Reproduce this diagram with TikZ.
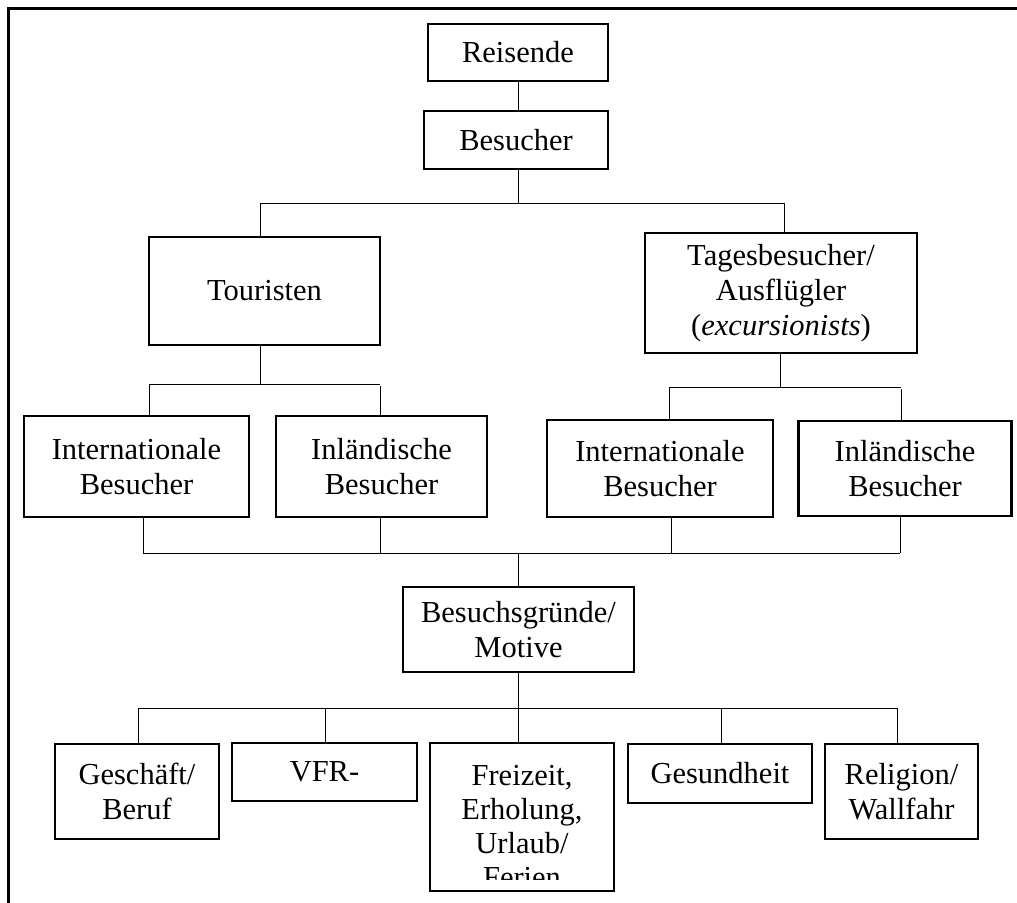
\documentclass[tikz,border=0pt]{standalone}
\usepackage{fontspec}
\setmainfont{Liberation Serif}
\begin{document}
\begin{tikzpicture}[x=1pt,y=-1pt,
  box/.style={draw, line width=2.8pt, rectangle, inner sep=0pt, align=center,
    font=\fontsize{30.5}{35}\selectfont},
  txt/.style={inner sep=0pt, align=center, font=\fontsize{30.5}{34}\selectfont},
  link/.style={line width=1pt}]
\clip (0,0) rectangle (1017,902);
% outer frame (right and bottom sides run off the page)
\draw[line width=3pt] (8.3,8.3) rectangle (1040,930);

% top levels
\node[box, minimum width=180, minimum height=57] (reis) at (518,52.5) {Reisende};
\node[box, minimum width=184, minimum height=58] (besu) at (516,140) {Besucher};
\node[box, minimum width=231, minimum height=108] (tour) at (264.5,291) {Touristen};
\node[box, minimum width=272, minimum height=120] (tages) at (781,293)
  {Tagesbesucher/\\Ausflügler\\(\textit{excursionists})};

% second level
\node[box, minimum width=225, minimum height=101] (int1) at (136.5,466.5) {Internationale\\Besucher};
\node[box, minimum width=211, minimum height=101] (inl1) at (381.5,466.5) {Inländische\\Besucher};
\node[box, minimum width=226, minimum height=97] (int2) at (660,468.5) {Internationale\\Besucher};
\node[box, minimum width=213, minimum height=95] (inl2) at (905,468.5) {Inländische\\Besucher};

% motives
\node[box, minimum width=231, minimum height=85] (motiv) at (518.5,629.5) {Besuchsgründe/\\Motive};
\node[box, minimum width=164, minimum height=95] (gesch) at (137,791.5) {Geschäft/\\Beruf};
\node[box, minimum width=185, minimum height=58] (vfr) at (324.5,772) {VFR-};
\node[box, minimum width=184, minimum height=148] (frei) at (522,817) {};
\begin{scope}
  \clip (431,745) rectangle (613,879);
  \node[txt, anchor=north] (freitext) at (522,765) {Freizeit,\\Erholung,\\Urlaub/\\Ferien};
\end{scope}
\node[box, minimum width=184, minimum height=59] (gesu) at (720,773.5) {Gesundheit};
\node[box, minimum width=153, minimum height=95] (reli) at (901.5,791.5) {Religion/\\Wallfahr};

% junction points
\coordinate (b1) at (518,203);
\coordinate (b1l) at (260,203);
\coordinate (b1r) at (784,203);
\coordinate (t1) at (260,384);
\coordinate (t1l) at (149,384);
\coordinate (t1r) at (380,384);
\coordinate (t2) at (780,387);
\coordinate (t2l) at (669,387);
\coordinate (t2r) at (901,387);
\coordinate (m1) at (518,553);
\coordinate (m1a) at (143,553);
\coordinate (m1b) at (380,553);
\coordinate (m1c) at (671,553);
\coordinate (m1d) at (900,553);
\coordinate (m2) at (518,708);
\coordinate (m2a) at (138,708);
\coordinate (m2b) at (325,708);
\coordinate (m2d) at (721,708);
\coordinate (m2e) at (897,708);

% connectors
\draw[link] (reis.south) -- (besu.north -| reis.south);
\draw[link] (b1 |- besu.south) -- (b1);
\draw[link] (b1l) -- (b1r);
\draw[link] (b1l) -- (b1l |- tour.north);
\draw[link] (b1r) -- (b1r |- tages.north);

\draw[link] (t1 |- tour.south) -- (t1);
\draw[link] (t1l) -- (t1r);
\draw[link] (t1l) -- (t1l |- int1.north);
\draw[link] ([yshift=-2pt]t1r) -- (t1r |- inl1.north);

\draw[link] (t2 |- tages.south) -- (t2);
\draw[link] (t2l) -- (t2r);
\draw[link] (t2l) -- (t2l |- int2.north);
\draw[link] ([yshift=-2pt]t2r) -- (t2r |- inl2.north);

\draw[link] (m1a |- int1.south) -- (m1a);
\draw[link] (m1b |- inl1.south) -- (m1b);
\draw[link] (m1c |- int2.south) -- (m1c);
\draw[link] (m1d |- inl2.south) -- (m1d);
\draw[link] (m1a) -- (m1d);
\draw[link] (m1) -- (m1 |- motiv.north);

\draw[link] (m2 |- motiv.south) -- (m2);
\draw[link] (m2a) -- (m2e);
\draw[link] (m2a) -- (m2a |- gesch.north);
\draw[link] (m2b) -- (m2b |- vfr.north);
\draw[link] (m2) -- (m2 |- frei.north);
\draw[link] (m2d) -- (m2d |- gesu.north);
\draw[link] (m2e) -- (m2e |- reli.north);
\end{tikzpicture}
\end{document}
